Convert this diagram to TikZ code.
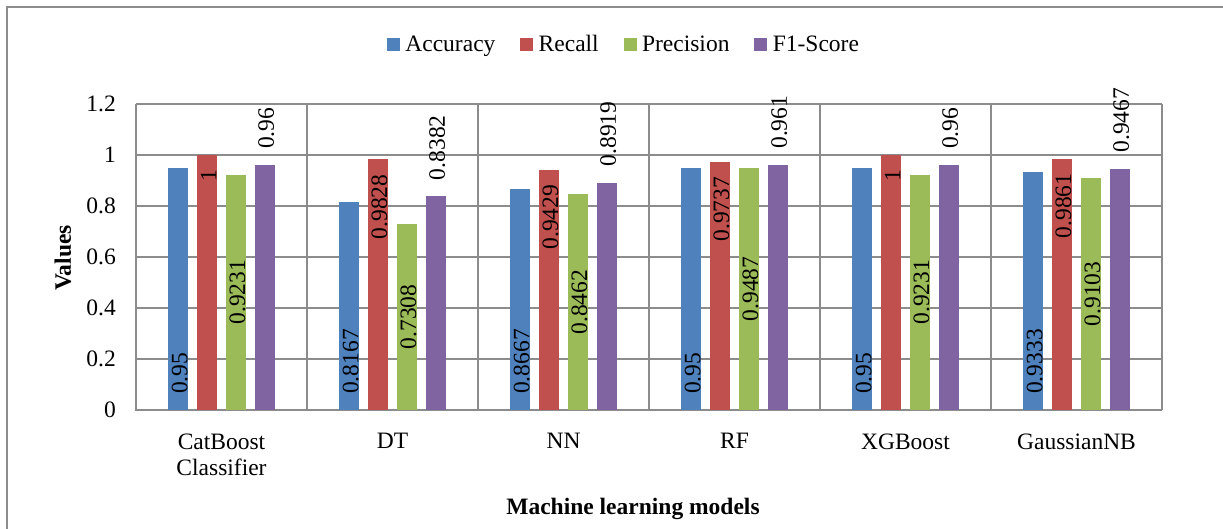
\documentclass[tikz,border=0pt]{standalone}
\usepackage{fontspec}
\setmainfont{Liberation Serif}
\usetikzlibrary{calc,positioning}
\definecolor{accblue}{HTML}{4F81BD}
\definecolor{recred}{HTML}{C0504D}
\definecolor{pregreen}{HTML}{9BBB59}
\definecolor{fonepurple}{HTML}{8064A2}
\definecolor{gridgray}{HTML}{8C8C8C}
\newcommand\chartfont{\fontsize{23.5}{26.6}\selectfont}

\begin{document}
\begin{tikzpicture}[x=1pt, y=1pt, font=\chartfont,
    gridline/.style={gridgray, line width=1.3pt},
    frameline/.style={gridgray, line width=1.5pt},
    legsq/.style={draw=none, minimum size=13pt, inner sep=0},
    legtxt/.style={inner sep=0, text height=16pt, text depth=1.6pt},
    vlab/.style={rotate=90, inner sep=0}]
    \useasboundingbox (0,0) rectangle (1223,529);
    \draw[frameline] (7,0) |- (1223,522);

    \node[legsq, fill=accblue] (sqacc) at (393.5,484.5) {};
    \node[legtxt, right=5pt of sqacc] (lgacc) {Accuracy};
    \node[legsq, fill=recred, right=24.5pt of lgacc] (sqrec) {};
    \node[legtxt, right=5pt of sqrec] (lgrec) {Recall};
    \node[legsq, fill=pregreen, right=24.5pt of lgrec] (sqpre) {};
    \node[legtxt, right=5pt of sqpre] (lgpre) {Precision};
    \node[legsq, fill=fonepurple, right=24.5pt of lgpre] (sqfsc) {};
    \node[legtxt, right=5pt of sqfsc] (lgfsc) {F1-Score};

    \begin{scope}[shift={(136,119)}, y=255pt]
        \foreach \v in {0.2,0.4,0.6,0.8,1,1.2}
            \draw[gridline] (0,\v) -- (1026,\v);
        \foreach \k in {1,...,6}
            \draw[gridline] ({171*\k},0) -- ({171*\k},1.2);
        \draw[gridline] (0,1.2) -- (0,0) -- (1026,0);
        \foreach \v [count=\k] in {0,0.2,0.4,0.6,0.8,1,1.2}
            \node[anchor=east, inner sep=0] (tick\k) at ($(0,\v)+(-20pt,0pt)$) {\v};

        \foreach \mname/\acc/\rec/\pre/\fsc [count=\i from 0] in {
            {CatBoost\\Classifier}/0.95/1/0.9231/0.96,
            DT/0.8167/0.9828/0.7308/0.8382,
            NN/0.8667/0.9429/0.8462/0.8919,
            RF/0.95/0.9737/0.9487/0.961,
            XGBoost/0.95/1/0.9231/0.96,
            GaussianNB/0.9333/0.9861/0.9103/0.9467}{
            \pgfmathsetmacro\cx{85.5+171*\i}
            \fill[accblue] ({\cx-53.2},0) rectangle ({\cx-33.2},\acc);
            \fill[recred] ({\cx-24.5},0) rectangle ({\cx-4.5},\rec);
            \fill[pregreen] ({\cx+4.5},0) rectangle ({\cx+24.5},\pre);
            \fill[fonepurple] ({\cx+33.2},0) rectangle ({\cx+53.2},\fsc);
            \node[vlab, anchor=west] (vacc\i) at ($({\cx-41.7},0)+(0pt,16pt)$) {\acc};
            \node[vlab, anchor=east] (vrec\i) at ($({\cx-13},\rec)+(0pt,-15pt)$) {\rec};
            \node[vlab] (vpre\i) at ({\cx+16},{\pre/2}) {\pre};
            \node[vlab, anchor=west] (vfsc\i) at ($({\cx+44.7},\fsc)+(0pt,16pt)$) {\fsc};
            \node[anchor=north, align=center, inner sep=0] (model\i) at ({\cx pt},-23.3pt) {\mname};
        }
    \end{scope}

    \node[rotate=90, font=\chartfont\bfseries] (ytitle) at (63,271) {Values};
    \node[anchor=base, font=\chartfont\bfseries] (xtitle) at (633,14.7) {Machine learning models};
\end{tikzpicture}
\end{document}
